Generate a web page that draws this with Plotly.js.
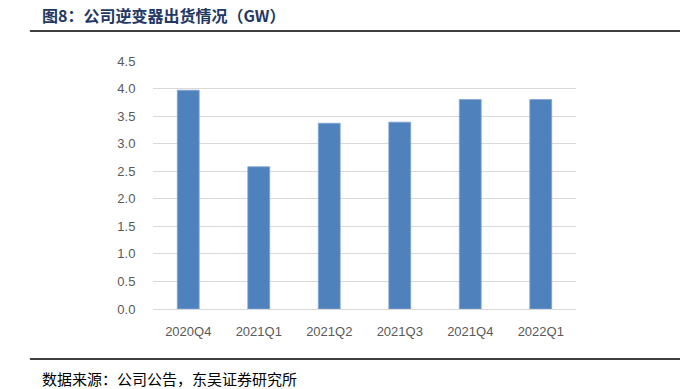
<!DOCTYPE html>
<html><head><meta charset="utf-8">
<script src="https://cdn.plot.ly/plotly-3.0.1.min.js"></script>
<style>html,body{margin:0;padding:0;background:#fff;}#chart{width:680px;height:389px;}</style>
</head><body><div id="chart"></div>
<script>
const categories = ["2020Q4","2021Q1","2021Q2","2021Q3","2021Q4","2022Q1"];
const shipments = [3.97, 2.58, 3.37, 3.39, 3.80, 3.80];
const yTicks = [0,0.5,1,1.5,2,2.5,3,3.5,4,4.5];
const yTickText = ["0.0","0.5","1.0","1.5","2.0","2.5","3.0","3.5","4.0","4.5"];
const titleText = "图8：公司逆变器出货情况（GW）";
const sourceText = "数据来源：公司公告，东吴证券研究所";

const trace = {
  type: "bar", x: categories, y: shipments,
  marker: {color: "#4F81BD", line: {color: "#7FA3D3", width: 0.8}},
  hoverinfo: "x+y"
};
const layout = {
  width: 680, height: 389,
  margin: {l: 153, r: 104, t: 61, b: 80},
  paper_bgcolor: "#fff", plot_bgcolor: "#fff",
  bargap: 0.69,
  showlegend: false,
  font: {family: "Liberation Sans, Arial, sans-serif", color: "#595959", size: 13},
  xaxis: {
    type: "category", showgrid: false, zeroline: false, showline: false,
    ticks: "outside", ticklen: 10, tickcolor: "rgba(0,0,0,0)",
    tickfont: {size: 13, color: "#595959"}
  },
  yaxis: {
    range: [0, 4.5], tickvals: yTicks, ticktext: yTickText,
    showgrid: true, gridcolor: "#D9D9D9", gridwidth: 1,
    zeroline: true, zerolinecolor: "#D9D9D9", zerolinewidth: 1,
    showline: false, ticks: "outside", ticklen: 14, tickcolor: "rgba(0,0,0,0)",
    tickfont: {size: 13, color: "#595959"}
  },
  shapes: [
    {type: "line", xref: "paper", yref: "paper", x0: -0.291, x1: 1.246, y0: 1.121, y1: 1.121, line: {color: "#000", width: 1.5}},
    {type: "line", xref: "paper", yref: "paper", x0: -0.291, x1: 1.246, y0: -0.2016, y1: -0.2016, line: {color: "#000", width: 1.5}}
  ],
  annotations: [
    {text: titleText, xref: "paper", yref: "paper", x: -0.267, y: 1.185, xanchor: "left", yanchor: "middle", showarrow: false,
     font: {family: "Noto Sans CJK SC", size: 16, color: "#1F3864", weight: 700}},
    {text: sourceText, xref: "paper", yref: "paper", x: -0.267, y: -0.282, xanchor: "left", yanchor: "middle", showarrow: false,
     font: {family: "Noto Sans CJK SC", size: 15, color: "#000"}}
  ]
};
Plotly.newPlot("chart", [trace], layout, {displayModeBar: false, staticPlot: true});
</script></body></html>
